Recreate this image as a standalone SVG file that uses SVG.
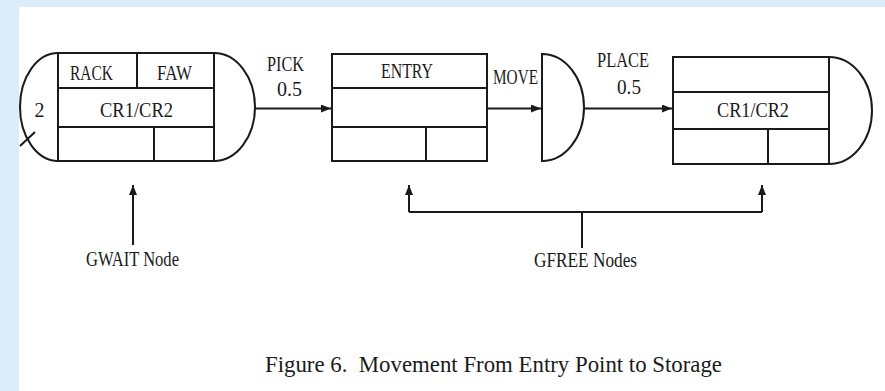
<svg xmlns="http://www.w3.org/2000/svg" width="885" height="391" viewBox="0 0 885 391">
<style>
.ln{fill:none;stroke:#1a1a1a;stroke-width:2}
.sh{fill:#fff;stroke:#1a1a1a;stroke-width:2}
.t{font-family:"Liberation Serif","Times New Roman",serif;font-size:20px;fill:#1a1a1a;text-anchor:middle}
.cap{font-family:"Liberation Serif","Times New Roman",serif;font-size:23px;fill:#1a1a1a;text-anchor:middle}
</style>
<defs>
<marker id="ah" viewBox="0 0 10 8" refX="10" refY="4" markerWidth="10" markerHeight="8" markerUnits="userSpaceOnUse" orient="auto">
<path d="M0,0 L10,4 L0,8 Z" fill="#1a1a1a"/>
</marker>
<clipPath id="panel"><rect x="19" y="7" width="866" height="384"/></clipPath>
</defs>
<rect x="0" y="0" width="885" height="391" fill="#dbedf8"/>
<rect x="19" y="7" width="866" height="384" fill="#fff"/>
<g clip-path="url(#panel)">
<g id="gwait">
<path class="sh" d="M58,53 L214,53 A41,54 0 0 1 214,161 L58,161 A38,54 0 0 1 58,53 Z"/>
<path class="ln" d="M58,53 V161 M214,53 V161 M58,88 H214 M58,127 H214 M137,53 V88 M154,127 V161 M20,146 L35,132"/>
<text class="t" x="91.5" y="80" textLength="43" lengthAdjust="spacingAndGlyphs">RACK</text>
<text class="t" x="174.5" y="80" textLength="35" lengthAdjust="spacingAndGlyphs">FAW</text>
<text class="t" x="39.5" y="117">2</text>
<text class="t" x="136.5" y="117" textLength="73" lengthAdjust="spacingAndGlyphs">CR1/CR2</text>
</g>
<g id="entry">
<rect class="sh" x="332" y="54" width="155" height="107"/>
<path class="ln" d="M332,88 H487 M332,127 H487 M426,127 V161"/>
<text class="t" x="407" y="78" textLength="52" lengthAdjust="spacingAndGlyphs">ENTRY</text>
</g>
<g id="move">
<path class="sh" d="M542,54 A42,53.5 0 0 1 542,161 Z"/>
</g>
<g id="storage">
<path class="sh" d="M673,57 L829,57 A43,53.5 0 0 1 829,164 L673,164 Z"/>
<path class="ln" d="M829,57 V164 M673,92 H829 M673,129 H829 M768,129 V164"/>
<text class="t" x="753" y="117" textLength="72" lengthAdjust="spacingAndGlyphs">CR1/CR2</text>
</g>
<g id="connectors">
<path class="ln" d="M255,108.5 H331" marker-end="url(#ah)"/>
<path class="ln" d="M487,108.5 H541" marker-end="url(#ah)"/>
<path class="ln" d="M584,108.5 H672" marker-end="url(#ah)"/>
<path class="ln" d="M133,245 V185" marker-end="url(#ah)"/>
<path class="ln" d="M409,212 V185" marker-end="url(#ah)"/>
<path class="ln" d="M762,212 V185" marker-end="url(#ah)"/>
<path class="ln" d="M409,212 H762 M582,212 V248"/>
<text class="t" x="285.5" y="71" textLength="37" lengthAdjust="spacingAndGlyphs">PICK</text>
<text class="t" x="289.5" y="96" textLength="25" lengthAdjust="spacingAndGlyphs">0.5</text>
<text class="t" x="515.5" y="84" textLength="45" lengthAdjust="spacingAndGlyphs">MOVE</text>
<text class="t" x="623" y="67" textLength="52" lengthAdjust="spacingAndGlyphs">PLACE</text>
<text class="t" x="629" y="94" textLength="24" lengthAdjust="spacingAndGlyphs">0.5</text>
</g>
<text class="t" x="132.5" y="266" textLength="93" lengthAdjust="spacingAndGlyphs">GWAIT Node</text>
<text class="t" x="585.5" y="267" textLength="103" lengthAdjust="spacingAndGlyphs">GFREE Nodes</text>
<text class="cap" x="493.5" y="372" textLength="457" lengthAdjust="spacingAndGlyphs" xml:space="preserve">Figure 6.  Movement From Entry Point to Storage</text>
</g>
</svg>
